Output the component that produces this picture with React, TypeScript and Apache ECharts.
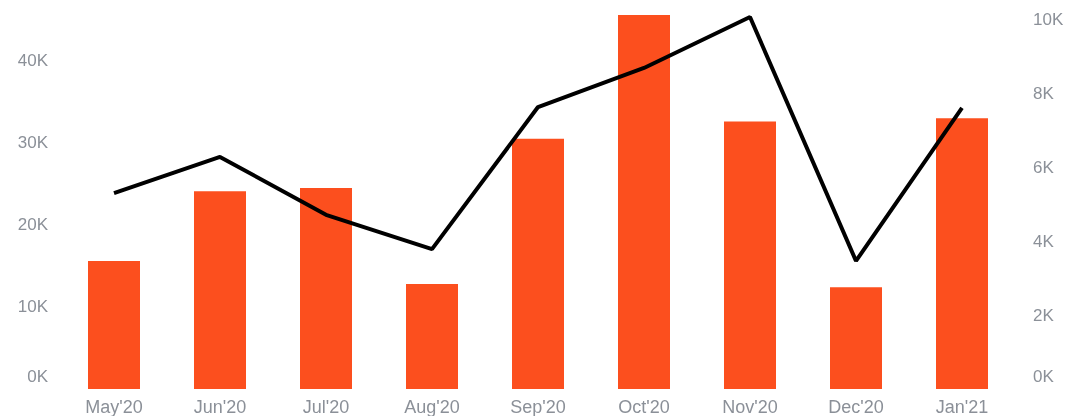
import React, { useEffect, useRef } from "react";
import * as echarts from "echarts";

const categories = ["May'20", "Jun'20", "Jul'20", "Aug'20", "Sep'20", "Oct'20", "Nov'20", "Dec'20", "Jan'21"];
const barValues = [15600, 24100, 24500, 12800, 30500, 45600, 32600, 12400, 33000];
const lineValues = [5310, 6290, 4720, 3790, 7640, 8700, 10080, 3470, 7620];

const labelColor = "#8b9098";
const fontFamily = "'Liberation Sans', Arial, sans-serif";
const fontSize = 17;

const fmt = (v: number) => {
  const s = `${Math.round(v / 1000)}K`;
  return v === 0 ? `{z|${s}}` : s;
};

export default function App() {
  const ref = useRef<HTMLDivElement>(null);
  useEffect(() => {
    if (!ref.current) return;
    const chart = echarts.init(ref.current, undefined, { renderer: "svg" });
    const axisLabelBase = {
      color: labelColor,
      fontSize,
      fontFamily,
      formatter: fmt,
      rich: { z: { color: labelColor, fontSize, fontFamily, padding: [0, 0, 26, 0] } },
    };
    chart.setOption({
      animation: false,
      grid: { left: 61, right: 54, top: 15, bottom: 27, containLabel: false },
      xAxis: {
        type: "category",
        data: categories,
        axisLine: { show: false },
        axisTick: { show: false },
        axisLabel: { color: labelColor, fontSize: 18, fontFamily, margin: 9 },
      },
      yAxis: [
        {
          type: "value",
          min: 0,
          max: 45600,
          interval: 10000,
          splitLine: { show: false },
          axisLine: { show: false },
          axisTick: { show: false },
          axisLabel: { ...axisLabelBase, margin: 13, showMaxLabel: false },
        },
        {
          type: "value",
          min: 0,
          max: 10135,
          interval: 2000,
          position: "right",
          splitLine: { show: false },
          axisLine: { show: false },
          axisTick: { show: false },
          axisLabel: { ...axisLabelBase, margin: 18, showMaxLabel: false },
        },
      ],
      series: [
        {
          type: "bar",
          data: barValues,
          yAxisIndex: 0,
          barWidth: 52,
          itemStyle: { color: "#FC4F1E" },
        },
        {
          type: "line",
          data: lineValues,
          yAxisIndex: 1,
          showSymbol: false,
          symbol: "none",
          clip: false,
          lineStyle: { color: "#000000", width: 4 },
          z: 5,
        },
      ],
    });
    return () => chart.dispose();
  }, []);
  return <div ref={ref} style={{ width: 1069, height: 416, position: "fixed", left: 0, top: 0 }} />;
}
